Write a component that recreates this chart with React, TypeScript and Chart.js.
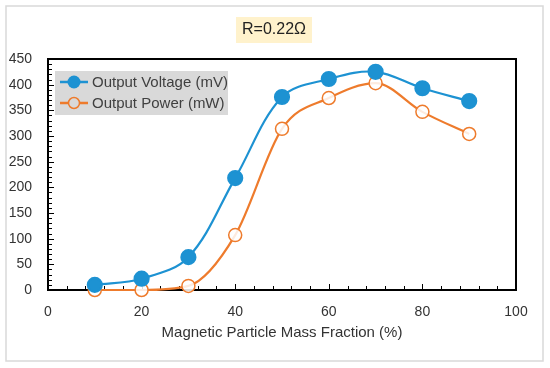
import React, { useEffect, useRef } from "react";
import { Chart, registerables } from "chart.js";

Chart.register(...registerables);

const fractions = [10, 20, 30, 40, 50, 60, 70, 80, 90];
const voltage = [10, 22, 64, 218, 376, 411, 425, 393, 368];
const power = [0, 0, 8, 107, 314, 374, 403, 347, 304];
const titleText = "R=0.22Ω";
const xTitle = "Magnetic Particle Mass Fraction (%)";
const legendLabels = ["Output Voltage (mV)", "Output Power (mW)"];

const BLUE = "#1d92d2";
const ORANGE = "#ee7b2c";
const FONT = "'Liberation Sans', Arial, sans-serif";

const decorPlugin = {
  id: "decor",
  beforeDraw(chart: any) {
    const ctx = chart.ctx;
    ctx.save();
    ctx.fillStyle = "#ffffff";
    ctx.fillRect(0, 0, chart.width, chart.height);
    ctx.strokeStyle = "#d9d9d9";
    ctx.lineWidth = 1.5;
    ctx.strokeRect(6, 6, chart.width - 13, chart.height - 13);
    ctx.font = `16px ${FONT}`;
    const tw = ctx.measureText(titleText).width;
    const cx = chart.width / 2 - 1;
    const cy = 30;
    ctx.fillStyle = "#fff2cc";
    ctx.fillRect(cx - tw / 2 - 6, cy - 13, tw + 12, 26);
    ctx.fillStyle = "#222";
    ctx.textAlign = "center";
    ctx.textBaseline = "middle";
    ctx.fillText(titleText, cx, cy);
    ctx.restore();
  },
  beforeDatasetsDraw(chart: any) {
    const ctx = chart.ctx;
    const { left, right, top, bottom } = chart.chartArea;
    const xs = chart.scales.x;
    const ys = chart.scales.y;
    ctx.save();
    ctx.strokeStyle = "#000";
    ctx.lineWidth = 1;
    ctx.beginPath();
    for (let v = 0; v <= 100; v += 4) {
      const px = Math.round(xs.getPixelForValue(v)) + 0.5;
      const len = v % 20 === 0 ? 6 : 4;
      ctx.moveTo(px, bottom);
      ctx.lineTo(px, bottom - len);
    }
    for (let v = 0; v <= 450; v += 10) {
      const py = Math.round(ys.getPixelForValue(v)) + 0.5;
      const len = v % 50 === 0 ? 6 : 4;
      ctx.moveTo(left, py);
      ctx.lineTo(left + len, py);
    }
    ctx.stroke();
    ctx.lineWidth = 2;
    ctx.strokeRect(left, top, right - left, bottom - top);
    ctx.restore();
  },
  afterDraw(chart: any) {
    const ctx = chart.ctx;
    const { left, top } = chart.chartArea;
    ctx.save();
    ctx.fillStyle = "#d9d9d9";
    ctx.fillRect(left + 7, top + 12, 173, 44);
    const rows = [
      { label: legendLabels[0], color: BLUE, filled: true, y: top + 23 },
      { label: legendLabels[1], color: ORANGE, filled: false, y: top + 44 },
    ];
    ctx.font = `15px ${FONT}`;
    ctx.textAlign = "left";
    ctx.textBaseline = "middle";
    for (const r of rows) {
      ctx.strokeStyle = r.color;
      ctx.lineWidth = 2.5;
      ctx.beginPath();
      ctx.moveTo(left + 12, r.y);
      ctx.lineTo(left + 40, r.y);
      ctx.stroke();
      ctx.beginPath();
      ctx.arc(left + 26, r.y, r.filled ? 6.5 : 5.5, 0, Math.PI * 2);
      if (r.filled) {
        ctx.fillStyle = r.color;
        ctx.fill();
      } else {
        ctx.lineWidth = 1.5;
        ctx.fillStyle = "#d9d9d9";
        ctx.fill();
        ctx.stroke();
      }
      ctx.fillStyle = "#404040";
      ctx.fillText(r.label, left + 44, r.y + 1);
    }
    ctx.restore();
  },
};

export default function App() {
  const ref = useRef<HTMLCanvasElement | null>(null);
  useEffect(() => {
    if (!ref.current) return;
    const chart = new Chart(ref.current, {
      type: "line",
      data: {
        datasets: [
          {
            label: legendLabels[0],
            data: fractions.map((x, i) => ({ x, y: voltage[i] })),
            borderColor: BLUE,
            backgroundColor: BLUE,
            pointBackgroundColor: BLUE,
            pointBorderColor: BLUE,
            pointRadius: 7,
            borderWidth: 2.2,
            tension: 0.35,
            clip: false,
          },
          {
            label: legendLabels[1],
            data: fractions.map((x, i) => ({ x, y: power[i] })),
            borderColor: ORANGE,
            backgroundColor: "#ffffff",
            pointBackgroundColor: "rgba(255,255,255,0.85)",
            pointBorderColor: ORANGE,
            pointBorderWidth: 1.5,
            pointRadius: 6.5,
            borderWidth: 2.2,
            cubicInterpolationMode: "monotone",
            clip: false,
          },
        ],
      },
      options: {
        animation: false,
        responsive: false,
        layout: { padding: { left: 0, top: 59, right: 34, bottom: 0 } },
        plugins: {
          legend: { display: false },
          title: { display: false },
          tooltip: { enabled: false },
        },
        scales: {
          x: {
            type: "linear",
            min: 0,
            max: 100,
            ticks: {
              stepSize: 20,
              padding: 6,
              color: "#333",
              font: { family: FONT, size: 14 },
            },
            grid: { display: false },
            border: { display: false },
            title: {
              display: true,
              text: xTitle,
              color: "#333",
              font: { family: FONT, size: 15 },
              padding: { top: 0, bottom: 26 },
            },
            afterFit: (s: any) => {
              s.height = 78;
            },
          },
          y: {
            type: "linear",
            min: 0,
            max: 450,
            ticks: {
              stepSize: 50,
              padding: 8,
              color: "#333",
              font: { family: FONT, size: 14 },
            },
            grid: { display: false },
            border: { display: false },
            afterFit: (s: any) => {
              s.width = 48;
            },
          },
        },
      },
      plugins: [decorPlugin],
    } as any);
    return () => chart.destroy();
  }, []);
  return (
    <div style={{ position: "absolute", left: 0, top: 0, width: 550, height: 368 }}>
      <canvas ref={ref} width={550} height={368} style={{ width: 550, height: 368, display: "block" }} />
    </div>
  );
}
